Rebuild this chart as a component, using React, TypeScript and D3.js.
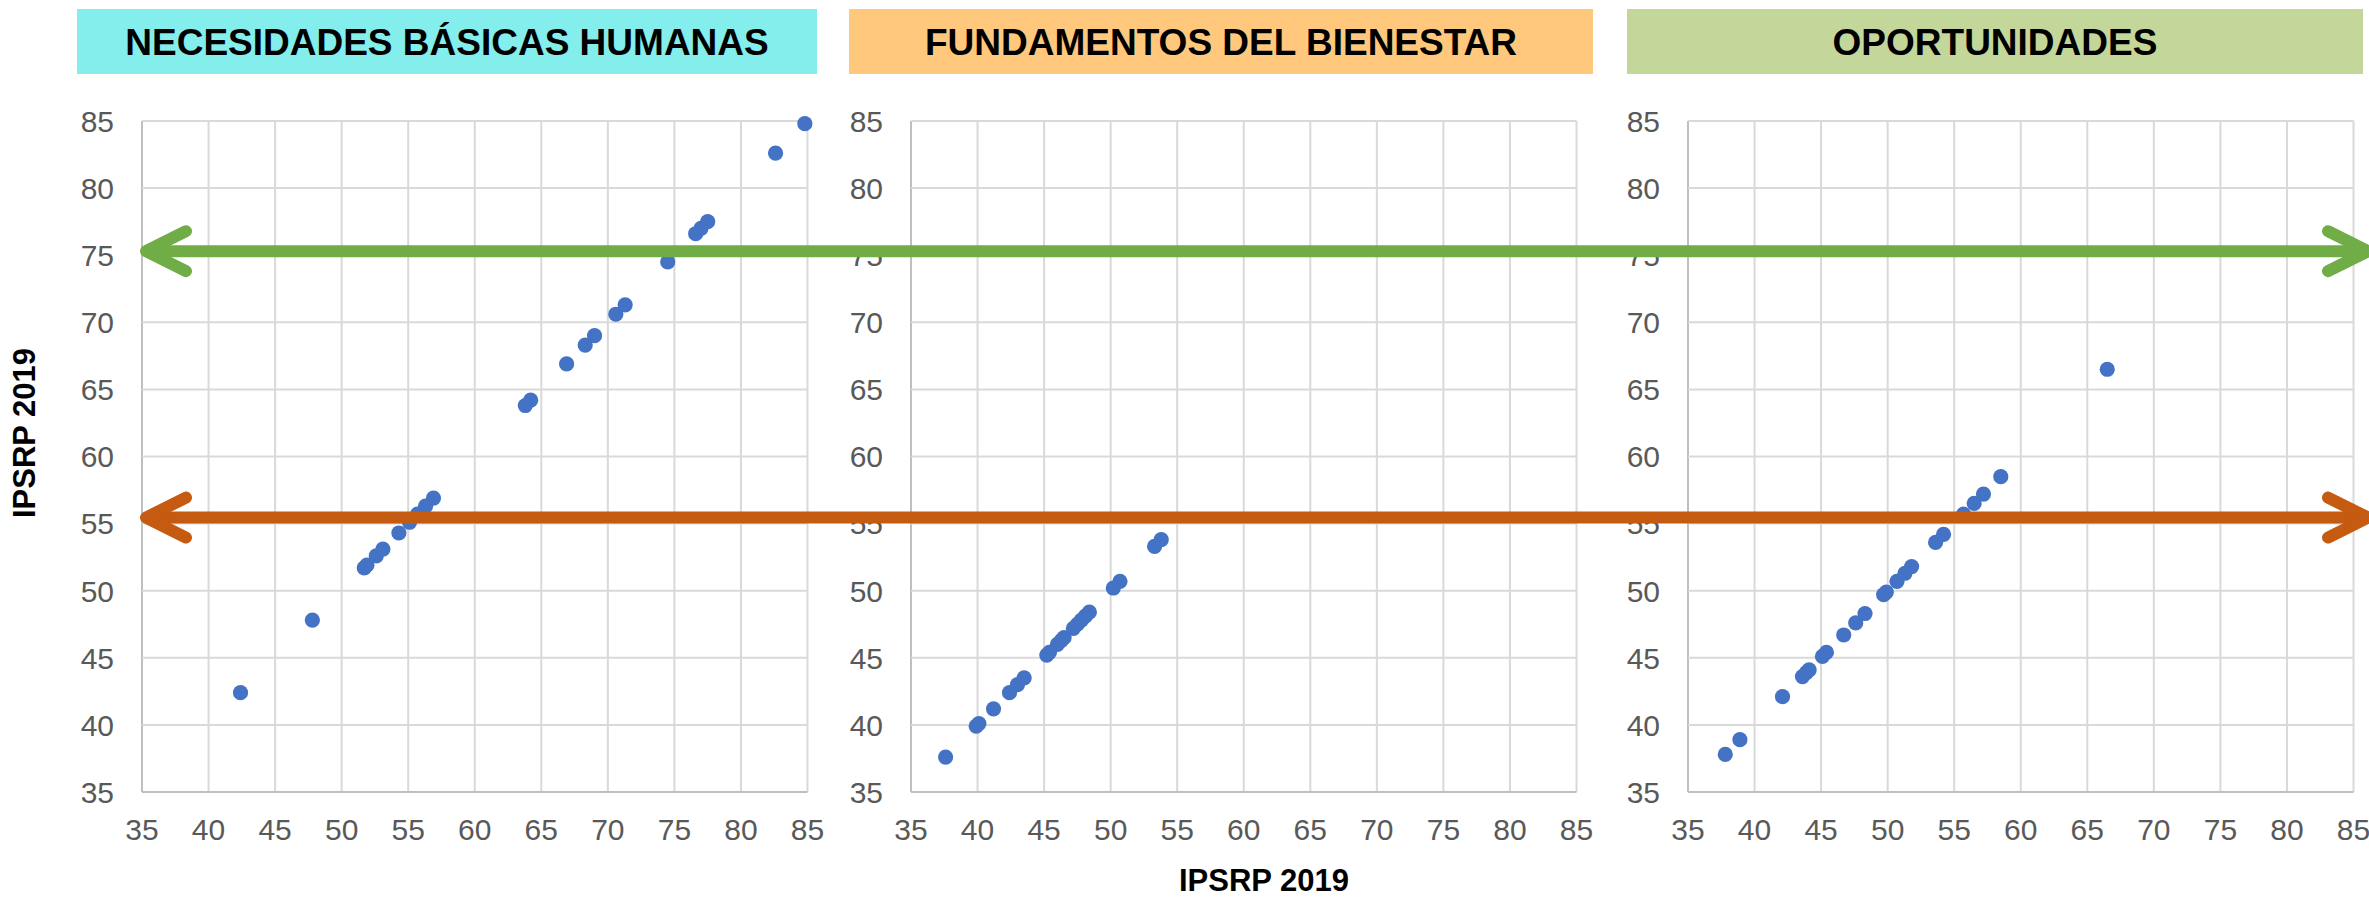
import * as d3 from 'd3';

// values (IPSRP 2019 per dimension, plotted against itself)
const nbhValues = [42.4, 47.8, 51.7, 51.9, 52.6, 53.1, 54.3, 55.1, 55.7, 56.3, 56.9, 63.8, 64.2, 66.9, 68.3, 69.0, 70.6, 71.3, 74.5, 76.6, 77.0, 77.5, 82.6, 84.8];
const fdbValues = [37.6, 39.9, 40.1, 41.2, 42.4, 43.0, 43.5, 45.2, 45.4, 46.0, 46.3, 46.5, 47.2, 47.5, 47.8, 48.1, 48.4, 50.2, 50.7, 53.3, 53.8];
const opoValues = [37.8, 38.9, 42.1, 43.6, 43.9, 44.1, 45.1, 45.4, 46.7, 47.6, 48.3, 49.7, 49.9, 50.7, 51.3, 51.8, 53.6, 54.2, 55.7, 56.5, 57.2, 58.5, 66.5];

const panelTitles = ['NECESIDADES BÁSICAS HUMANAS', 'FUNDAMENTOS DEL BIENESTAR', 'OPORTUNIDADES'];
const panelColors = ['#83EEEB', '#FFC87C', '#C4D79B'];
const panelSeries = [nbhValues, fdbValues, opoValues];

const axisDomain = [35, 85];
const axisTitle = 'IPSRP 2019';

// threshold arrows
const arrowLevels = [75.3, 55.45];
const arrowColors = ['#70AD47', '#C55A11'];

const width = 2369;
const height = 898;
const plotTop = 121;
const plotBottom = 792;
const plotWidth = 665.5;
const panels = [
  { left: 142, boxX: 77, boxW: 740 },
  { left: 911, boxX: 849, boxW: 744 },
  { left: 1688, boxX: 1627, boxW: 736 },
];

const font = 'Arial, "Liberation Sans", sans-serif';

const Panel = ({ idx }) => {
  const p = panels[idx];
  const xScale = d3.scaleLinear().domain(axisDomain).range([p.left, p.left + plotWidth]);
  const yScale = d3.scaleLinear().domain(axisDomain).range([plotBottom, plotTop]);
  const ticks = xScale.ticks(10);
  return (
    <g>
      <rect x={p.boxX} y={9} width={p.boxW} height={65} fill={panelColors[idx]} />
      <text
        x={p.boxX + p.boxW / 2}
        y={55}
        textAnchor="middle"
        style={{ fontFamily: font, fontWeight: 'bold', fontSize: 37 }}
        fill="#000"
      >{panelTitles[idx]}</text>

      {ticks.map((t) => (
        <line key={'gx' + t} x1={xScale(t)} x2={xScale(t)} y1={plotTop} y2={plotBottom}
          stroke={t === axisDomain[0] ? '#BFBFBF' : '#D9D9D9'} strokeWidth={2} />
      ))}
      {ticks.map((t) => (
        <line key={'gy' + t} x1={p.left} x2={p.left + plotWidth} y1={yScale(t)} y2={yScale(t)}
          stroke={t === axisDomain[0] ? '#BFBFBF' : '#D9D9D9'} strokeWidth={2} />
      ))}

      {ticks.map((t) => (
        <text key={'ly' + t} x={p.left - 28} y={yScale(t)} dy="0.36em" textAnchor="end"
          style={{ fontFamily: font, fontSize: 30 }} fill="#595959">{t}</text>
      ))}
      {ticks.map((t) => (
        <text key={'lx' + t} x={xScale(t)} y={840} textAnchor="middle"
          style={{ fontFamily: font, fontSize: 30 }} fill="#595959">{t}</text>
      ))}

      {panelSeries[idx].map((v, i) => (
        <circle key={i} cx={xScale(v)} cy={yScale(v)} r={7.6} fill="#4472C4" />
      ))}
    </g>
  );
};

const Arrow = ({ value, color }) => {
  const yScale = d3.scaleLinear().domain(axisDomain).range([plotBottom, plotTop]);
  const y = yScale(value);
  const l = 146;
  const r = 2368;
  return (
    <g stroke={color} strokeWidth={12} fill="none" strokeLinecap="round" strokeLinejoin="round">
      <line x1={l} x2={r} y1={y} y2={y} strokeLinecap="butt" />
      <polyline points={`${l + 40},${y - 20} ${l},${y} ${l + 40},${y + 20}`} />
      <polyline points={`${r - 40},${y - 20} ${r},${y} ${r - 40},${y + 20}`} />
    </g>
  );
};

export default function App() {
  return (
    <div style={{ position: 'absolute', left: 0, top: 0 }}>
      <svg width={width} height={height} style={{ display: 'block', background: '#fff' }}>
        {panels.map((_, i) => <Panel key={i} idx={i} />)}
        <text
          transform="translate(24,433) rotate(-90)"
          textAnchor="middle"
          dy="0.36em"
          style={{ fontFamily: font, fontWeight: 'bold', fontSize: 31 }}
        >{axisTitle}</text>
        <text x={1264} y={891} textAnchor="middle"
          style={{ fontFamily: font, fontWeight: 'bold', fontSize: 31 }}>{axisTitle}</text>
        {arrowLevels.map((v, i) => <Arrow key={i} value={v} color={arrowColors[i]} />)}
      </svg>
    </div>
  );
}
